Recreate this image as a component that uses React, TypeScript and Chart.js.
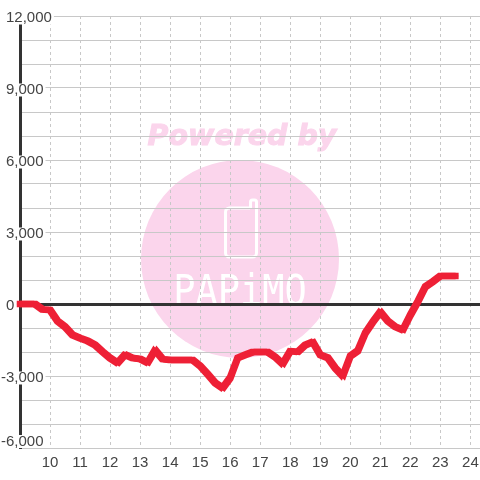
import React, { useEffect, useRef } from "react";
import { Chart, registerables } from "chart.js";

Chart.register(...registerables);

const hours = [
  9, 9.25, 9.5, 9.75, 10, 10.25, 10.5, 10.75, 11, 11.25, 11.5, 11.75, 12, 12.25, 12.5, 12.75,
  13, 13.25, 13.5, 13.75, 14, 14.25, 14.5, 14.75, 15, 15.25, 15.5, 15.75, 16, 16.25, 16.5, 16.75,
  17, 17.25, 17.5, 17.75, 18, 18.25, 18.5, 18.75, 19, 19.25, 19.5, 19.75, 20, 20.25, 20.5, 20.75,
  21, 21.25, 21.5, 21.75, 22, 22.25, 22.5, 22.75, 23, 23.25, 23.5,
];
const profit = [
  0, 0, 0, -230, -250, -710, -950, -1290, -1420, -1540, -1710, -1990, -2250, -2460, -2110, -2250,
  -2290, -2450, -1920, -2300, -2330, -2330, -2330, -2330, -2580, -2920, -3290, -3500, -3080, -2250, -2120, -2000,
  -2000, -2000, -2210, -2500, -1960, -2000, -1710, -1580, -2120, -2240, -2670, -3000, -2170, -1950, -1210, -750,
  -330, -710, -950, -1080, -460, 100, 720, 930, 1170, 1170, 1170,
];
const xTicks = [10, 11, 12, 13, 14, 15, 16, 17, 18, 19, 20, 21, 22, 23, 24];
const yMajorTicks = [12000, 9000, 6000, 3000, 0, -3000, -6000];
const watermarkTop = "Powered by";
const watermarkBrand = "PAPiMO";

const brushOffsets = [
  [-1.5, -1.5],
  [1.5, -1.5],
  [-1.5, 1.5],
  [1.5, 1.5],
];

const watermark = {
  id: "watermark",
  beforeDraw(chart: any) {
    const c = chart.ctx;
    c.save();
    c.fillStyle = "#fbd5ec";
    c.strokeStyle = "#fbd5ec";
    c.beginPath();
    c.arc(240, 259, 99, 0, Math.PI * 2);
    c.fill();
    c.font = "italic bold 28.5px 'DejaVu Sans'";
    c.textAlign = "center";
    c.textBaseline = "alphabetic";
    c.lineWidth = 1;
    c.fillText(watermarkTop, 242, 144.5);
    c.strokeText(watermarkTop, 242, 144.5);
    c.strokeStyle = "#ffffff";
    c.lineWidth = 3;
    c.lineJoin = "round";
    c.beginPath();
    c.moveTo(250, 208);
    c.lineTo(229, 208);
    c.arcTo(225.5, 208, 225.5, 212, 4);
    c.lineTo(225.5, 252);
    c.arcTo(225.5, 257, 230, 257, 4);
    c.lineTo(252, 257);
    c.arcTo(256.5, 257, 256.5, 252, 4);
    c.lineTo(256.5, 202);
    c.arcTo(256.5, 200, 253, 200, 2);
    c.arcTo(250.5, 200, 250.5, 204, 2);
    c.lineTo(250.5, 208);
    c.stroke();
    c.translate(240, 0);
    c.scale(0.86, 1);
    c.font = "43px 'DejaVu Sans Mono'";
    c.fillStyle = "#ffffff";
    c.fillText(watermarkBrand, 0, 305);
    c.restore();
    const y = chart.scales.y;
    for (const item of y.getLabelItems()) {
      if (item._moved) continue;
      item._moved = true;
      let dy = 2;
      let dx = 0;
      if (item.label === "-6,000") dy -= 8.5;
      if (typeof item.label === "string" && item.label.startsWith("-")) dx = -5;
      item.options.translation[0] += dx;
      item.options.translation[1] += dy;
      if (item.backdrop) {
        item.backdrop.left += dx;
        item.backdrop.top += dy;
      }
    }
  },
  afterDatasetDraw(chart: any, args: any) {
    const c = chart.ctx;
    const line = args.meta.dataset;
    for (const [dx, dy] of brushOffsets) {
      c.save();
      c.translate(dx, dy);
      line.draw(c, chart.chartArea);
      c.restore();
    }
  },
};

export default function App() {
  const ref = useRef<HTMLCanvasElement>(null);
  useEffect(() => {
    document.body.style.margin = "0";
    const chart = new Chart(ref.current!, {
      type: "line",
      data: {
        datasets: [
          {
            data: hours.map((h, i) => ({ x: h, y: profit[i] })),
            borderColor: "#ee2036",
            borderWidth: 3.5,
            borderCapStyle: "square",
            borderJoinStyle: "miter",
            pointRadius: 0,
            tension: 0,
            clip: false,
          },
        ],
      },
      options: {
        animation: false,
        responsive: false,
        layout: { padding: { left: 20, top: 16, right: 0, bottom: 0 } },
        plugins: { legend: { display: false }, tooltip: { enabled: false } },
        scales: {
          x: {
            type: "linear",
            min: 9,
            max: 24.32,
            afterBuildTicks: (s: any) => {
              s.ticks = xTicks.map((value) => ({ value }));
            },
            afterFit: (s: any) => {
              s.height = 32;
              s.paddingLeft = 0;
              s.paddingRight = 0;
            },
            grid: { color: "#c8c8c8", lineWidth: 1, drawTicks: false },
            border: { display: false, dash: [3, 3] },
            ticks: {
              autoSkip: false,
              maxRotation: 0,
              padding: 6,
              color: "#444444",
              font: { family: "'Liberation Sans'", size: 15 },
              callback: (v: any) => String(v),
            },
          },
          y: {
            type: "linear",
            min: -6000,
            max: 12000,
            afterBuildTicks: (s: any) => {
              const out = [];
              for (let v = -6000; v <= 12000; v += 1000) out.push({ value: v });
              s.ticks = out;
            },
            afterFit: (s: any) => {
              s.width = 0;
              s.paddingTop = 0;
              s.paddingBottom = 0;
            },
            grid: {
              color: (c: any) => (c.tick && c.tick.value === 0 ? "#333333" : "#c8c8c8"),
              lineWidth: (c: any) => (c.tick && c.tick.value === 0 ? 3 : 1),
              drawTicks: false,
            },
            border: { display: true, color: "#333333", width: 3 },
            ticks: {
              mirror: true,
              padding: -14,
              autoSkip: false,
              color: "#444444",
              font: { family: "'Liberation Sans'", size: 15, lineHeight: 1 },
              showLabelBackdrop: (c: any) => yMajorTicks.includes(c.tick?.value),
              backdropColor: "#ffffff",
              backdropPadding: { top: -1, bottom: -1, left: 1, right: 2 },
              callback: (v: any) =>
                yMajorTicks.includes(v) ? Number(v).toLocaleString("en-US") : "",
            },
          },
        },
      },
      plugins: [watermark],
    } as any);
    return () => chart.destroy();
  }, []);
  return <canvas ref={ref} width={480} height={480} style={{ display: "block" }} />;
}
